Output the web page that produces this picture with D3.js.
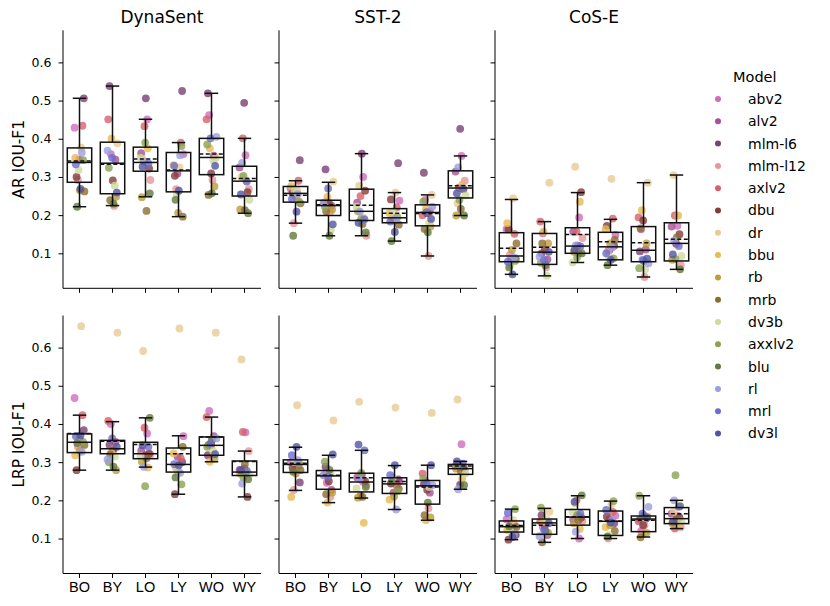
<!DOCTYPE html>
<html>
<head>
<meta charset="utf-8">
<script src="https://cdn.jsdelivr.net/npm/d3@7"></script>
<style>
  body { margin: 0; background: #fff; }
  text { font-family: "DejaVu Sans", sans-serif; fill: #000; }
</style>
</head>
<body>
<script>
// categories / panels
var categories = ["BO", "BY", "LO", "LY", "WO", "WY"];
var datasets = ["DynaSent", "SST-2", "CoS-E"];
var methods = ["AR IOU-F1", "LRP IOU-F1"];
var yTicks = [0.1, 0.2, 0.3, 0.4, 0.5, 0.6];

var models = ["abv2", "alv2", "mlm-l6", "mlm-l12", "axlv2", "dbu", "dr", "bbu",
              "rb", "mrb", "dv3b", "axxlv2", "blu", "rl", "mrl", "dv3l"];
var modelColors = ["#ce6dbd", "#a55194", "#7b4173", "#e7969c", "#d6616b", "#843c39", "#e7cb94", "#e7ba52",
                   "#bd9e39", "#8c6d31", "#cedb9c", "#8ca252", "#637939", "#9c9ede", "#6b6ecf", "#5254a3"];

// one row per category, one value per model (same order as models)
var arDynaSent = [
  [0.429,0.345,0.506,0.292,0.434,0.300,0.377,0.350,0.265,0.262,0.318,0.344,0.222,0.364,0.333,0.269],
  [0.360,0.345,0.538,0.224,0.451,0.291,0.388,0.400,0.248,0.239,0.277,0.324,0.230,0.369,0.350,0.259],
  [0.451,0.362,0.506,0.292,0.433,0.322,0.345,0.375,0.247,0.211,0.350,0.390,0.257,0.340,0.335,0.327],
  [0.360,0.309,0.525,0.268,0.390,0.303,0.325,0.331,0.206,0.196,0.255,0.381,0.240,0.357,0.329,0.264],
  [0.462,0.356,0.519,0.292,0.451,0.309,0.350,0.375,0.275,0.253,0.344,0.385,0.257,0.405,0.401,0.329],
  [0.357,0.325,0.494,0.268,0.401,0.260,0.300,0.290,0.215,0.213,0.240,0.303,0.205,0.337,0.288,0.254]
];
var arSST2 = [
  [0.270,0.260,0.344,0.179,0.290,0.258,0.265,0.276,0.248,0.231,0.263,0.235,0.146,0.255,0.242,0.209],
  [0.235,0.225,0.320,0.208,0.233,0.232,0.288,0.248,0.215,0.210,0.161,0.222,0.146,0.231,0.270,0.176],
  [0.300,0.233,0.361,0.146,0.250,0.264,0.277,0.192,0.210,0.177,0.222,0.190,0.155,0.209,0.189,0.180],
  [0.238,0.192,0.336,0.190,0.220,0.241,0.259,0.205,0.185,0.175,0.209,0.195,0.132,0.190,0.183,0.156],
  [0.240,0.210,0.311,0.093,0.200,0.205,0.253,0.216,0.170,0.164,0.179,0.235,0.155,0.222,0.208,0.190],
  [0.355,0.314,0.426,0.290,0.272,0.268,0.231,0.280,0.199,0.216,0.252,0.240,0.199,0.325,0.270,0.257]
];
var arCoSE = [
  [0.163,0.087,0.085,0.096,0.151,0.163,0.244,0.179,0.109,0.126,0.070,0.080,0.063,0.090,0.078,0.045],
  [0.152,0.084,0.100,0.063,0.183,0.110,0.285,0.157,0.126,0.126,0.041,0.075,0.069,0.091,0.082,0.104],
  [0.194,0.157,0.120,0.140,0.157,0.260,0.327,0.235,0.104,0.100,0.076,0.090,0.100,0.121,0.118,0.109],
  [0.148,0.109,0.120,0.107,0.191,0.172,0.295,0.163,0.126,0.135,0.090,0.087,0.069,0.115,0.100,0.083],
  [0.163,0.110,0.105,0.038,0.194,0.186,0.285,0.213,0.126,0.165,0.058,0.061,0.080,0.074,0.083,0.086],
  [0.172,0.170,0.125,0.069,0.199,0.150,0.305,0.199,0.083,0.142,0.093,0.085,0.058,0.133,0.119,0.097]
];
var lrpDynaSent = [
  [0.468,0.360,0.384,0.340,0.423,0.279,0.656,0.318,0.330,0.345,0.357,0.353,0.350,0.327,0.368,0.370],
  [0.400,0.353,0.345,0.335,0.408,0.330,0.639,0.324,0.279,0.320,0.315,0.300,0.288,0.307,0.362,0.340],
  [0.375,0.330,0.318,0.320,0.390,0.322,0.591,0.286,0.301,0.310,0.315,0.237,0.416,0.288,0.340,0.344],
  [0.368,0.314,0.300,0.285,0.310,0.216,0.650,0.323,0.274,0.340,0.280,0.242,0.260,0.272,0.295,0.292],
  [0.434,0.368,0.318,0.360,0.418,0.345,0.639,0.301,0.310,0.345,0.330,0.340,0.358,0.362,0.349,0.321],
  [0.378,0.280,0.283,0.329,0.379,0.209,0.569,0.275,0.270,0.294,0.268,0.260,0.255,0.244,0.277,0.279]
];
var lrpSST2 = [
  [0.300,0.295,0.247,0.227,0.290,0.285,0.449,0.209,0.270,0.279,0.300,0.297,0.275,0.305,0.318,0.340],
  [0.246,0.227,0.288,0.209,0.265,0.250,0.409,0.194,0.220,0.216,0.270,0.301,0.280,0.266,0.262,0.320],
  [0.248,0.260,0.268,0.240,0.212,0.250,0.458,0.141,0.207,0.209,0.231,0.272,0.235,0.255,0.331,0.346],
  [0.250,0.220,0.255,0.245,0.238,0.244,0.443,0.202,0.210,0.230,0.260,0.224,0.248,0.176,0.266,0.292],
  [0.250,0.220,0.242,0.179,0.270,0.228,0.429,0.148,0.155,0.161,0.235,0.257,0.194,0.240,0.246,0.292],
  [0.347,0.290,0.241,0.280,0.288,0.285,0.464,0.257,0.283,0.276,0.270,0.290,0.240,0.229,0.296,0.302]
];
var lrpCoSE = [
  [0.150,0.140,0.109,0.125,0.135,0.097,0.148,0.122,0.128,0.130,0.118,0.177,0.132,0.112,0.167,0.104],
  [0.130,0.109,0.161,0.140,0.145,0.135,0.170,0.144,0.115,0.090,0.150,0.181,0.120,0.106,0.122,0.140],
  [0.100,0.150,0.160,0.145,0.200,0.155,0.192,0.125,0.140,0.148,0.170,0.162,0.213,0.118,0.165,0.196],
  [0.160,0.150,0.140,0.100,0.170,0.157,0.190,0.130,0.135,0.120,0.109,0.198,0.105,0.148,0.175,0.142],
  [0.120,0.152,0.150,0.135,0.145,0.135,0.158,0.110,0.115,0.103,0.155,0.212,0.160,0.183,0.165,0.155],
  [0.160,0.165,0.148,0.130,0.126,0.155,0.170,0.135,0.140,0.150,0.145,0.266,0.185,0.200,0.183,0.144]
];

// box stats per category: [whisker low, q1, median, mean, q3, whisker high]
var arDynaSentBox = [
  [0.222,0.286,0.338,0.342,0.376,0.506],
  [0.225,0.256,0.336,0.333,0.391,0.538],
  [0.248,0.315,0.338,0.347,0.378,0.451],
  [0.196,0.261,0.316,0.318,0.364,0.390],
  [0.255,0.306,0.351,0.360,0.401,0.519],
  [0.205,0.250,0.289,0.296,0.328,0.401]
];
var arSST2Box = [
  [0.179,0.234,0.257,0.252,0.275,0.290],
  [0.146,0.199,0.225,0.227,0.239,0.286],
  [0.146,0.186,0.210,0.226,0.268,0.361],
  [0.132,0.180,0.193,0.205,0.217,0.259],
  [0.093,0.172,0.207,0.204,0.227,0.253],
  [0.199,0.245,0.271,0.277,0.316,0.355]
];
var arCoSEBox = [
  [0.045,0.078,0.093,0.113,0.154,0.241],
  [0.041,0.071,0.103,0.116,0.152,0.183],
  [0.076,0.100,0.119,0.149,0.167,0.259],
  [0.069,0.083,0.117,0.130,0.155,0.189],
  [0.038,0.078,0.108,0.128,0.170,0.285],
  [0.058,0.080,0.126,0.137,0.180,0.305]
];
var lrpDynaSentBox = [
  [0.279,0.325,0.352,0.375,0.374,0.423],
  [0.279,0.322,0.335,0.355,0.357,0.406],
  [0.287,0.309,0.322,0.346,0.352,0.416],
  [0.216,0.274,0.294,0.322,0.337,0.369],
  [0.301,0.318,0.344,0.366,0.366,0.418],
  [0.209,0.265,0.274,0.302,0.303,0.329]
];
var lrpSST2Box = [
  [0.226,0.273,0.294,0.297,0.306,0.339],
  [0.194,0.229,0.264,0.266,0.278,0.318],
  [0.206,0.222,0.248,0.259,0.271,0.331],
  [0.176,0.218,0.243,0.249,0.259,0.291],
  [0.148,0.190,0.238,0.235,0.252,0.292],
  [0.229,0.268,0.283,0.290,0.294,0.302]
];
var lrpCoSEBox = [
  [0.097,0.117,0.131,0.134,0.146,0.177],
  [0.090,0.111,0.141,0.135,0.151,0.179],
  [0.100,0.135,0.156,0.157,0.176,0.212],
  [0.100,0.108,0.145,0.146,0.172,0.198],
  [0.104,0.118,0.151,0.148,0.159,0.212],
  [0.126,0.139,0.152,0.165,0.181,0.200]
];

var points = [[arDynaSent, arSST2, arCoSE], [lrpDynaSent, lrpSST2, lrpCoSE]];
var boxes = [[arDynaSentBox, arSST2Box, arCoSEBox], [lrpDynaSentBox, lrpSST2Box, lrpCoSEBox]];

// layout
var W = 830, H = 606;
var panelLeft = [63, 279, 495], panelW = 198;
var rowTop = [30.3, 315.5], panelH = 258;

var svg = d3.select("body").append("svg")
  .attr("width", W)
  .attr("height", H);

var x = d3.scaleBand().domain(categories).range([0, panelW]).padding(0);
var boxW = x.bandwidth() * 0.74, capW = boxW * 0.55;

// deterministic spread for the strip points
var jit = function(i, c) { return ((i * 7 + c * 5) % 16) / 15 - 0.5; };

methods.forEach(function(method, r) {
  var y = d3.scaleLinear().domain([0.0084, 0.684]).range([panelH, 0]);

  datasets.forEach(function(ds, c) {
    var g = svg.append("g")
      .attr("transform", "translate(" + panelLeft[c] + "," + rowTop[r] + ")");

    // axes
    var yAxis = d3.axisLeft(y).tickValues(yTicks).tickSize(4.5).tickPadding(7)
      .tickFormat(c === 0 ? d3.format(".1f") : "");
    var ya = g.append("g").call(yAxis);
    ya.select(".domain").attr("d", "M0,0V" + panelH).attr("stroke-width", 1);
    ya.selectAll("text").style("font-size", "12.5px").style("font-family", "DejaVu Sans");

    var xAxis = d3.axisBottom(x).tickSize(4.5).tickPadding(4)
      .tickFormat(r === 1 ? null : "");
    var xa = g.append("g").attr("transform", "translate(0," + panelH + ")").call(xAxis);
    xa.select(".domain").attr("d", "M0,0H" + panelW).attr("stroke-width", 1);
    xa.selectAll("text").style("font-size", "14.5px").style("font-family", "Liberation Sans, Arial, sans-serif");

    // strip points
    var pts = [];
    points[r][c].forEach(function(row, ci) {
      row.forEach(function(v, mi) { pts.push({cat: categories[ci], ci: ci, m: mi, v: v}); });
    });
    g.selectAll("circle.pt")
      .data(pts)
      .enter()
      .append("circle")
        .attr("class", "pt")
        .attr("cx", function(d) { return x(d.cat) + x.bandwidth() / 2 + jit(d.m, d.ci) * x.bandwidth() * 0.3; })
        .attr("cy", function(d) { return y(d.v); })
        .attr("r", 3.9)
        .attr("fill", function(d) { return modelColors[d.m]; })
        .attr("fill-opacity", 0.8);

    // boxes on top
    var bx = g.selectAll("g.box")
      .data(boxes[r][c])
      .enter()
      .append("g")
        .attr("class", "box")
        .attr("transform", function(d, i) { return "translate(" + (x(categories[i]) + x.bandwidth() / 2) + ",0)"; });

    bx.append("line").attr("y1", function(d) { return y(d[0]); }).attr("y2", function(d) { return y(d[1]); })
      .attr("stroke", "#111").attr("stroke-width", 1.5);
    bx.append("line").attr("y1", function(d) { return y(d[4]); }).attr("y2", function(d) { return y(d[5]); })
      .attr("stroke", "#111").attr("stroke-width", 1.5);
    [0, 5].forEach(function(k) {
      bx.append("line")
        .attr("x1", -capW / 2).attr("x2", capW / 2)
        .attr("y1", function(d) { return y(d[k]); }).attr("y2", function(d) { return y(d[k]); })
        .attr("stroke", "#111").attr("stroke-width", 1.5);
    });
    bx.append("rect")
      .attr("x", -boxW / 2)
      .attr("width", boxW)
      .attr("y", function(d) { return y(d[4]); })
      .attr("height", function(d) { return y(d[1]) - y(d[4]); })
      .attr("fill", "none")
      .attr("stroke", "#111")
      .attr("stroke-width", 1.5);
    bx.append("line")
      .attr("x1", -boxW / 2).attr("x2", boxW / 2)
      .attr("y1", function(d) { return y(d[2]); }).attr("y2", function(d) { return y(d[2]); })
      .attr("stroke", "#111").attr("stroke-width", 1.5);
    bx.append("line")
      .attr("x1", -boxW / 2).attr("x2", boxW / 2)
      .attr("y1", function(d) { return y(d[3]); }).attr("y2", function(d) { return y(d[3]); })
      .attr("stroke", "#111").attr("stroke-width", 1.5)
      .attr("stroke-dasharray", "4,2.5");

    // titles
    if (r === 0) {
      g.append("text")
        .attr("x", panelW / 2)
        .attr("y", -7)
        .attr("text-anchor", "middle")
        .style("font-size", "17px")
        .text(ds);
    }
  });

  svg.append("text")
    .attr("transform", "translate(24," + (rowTop[r] + panelH / 2) + ") rotate(-90)")
    .attr("text-anchor", "middle")
    .style("font-size", "15.5px")
    .text(method);
});

// legend
var legend = svg.append("g").attr("transform", "translate(718,0)");
legend.append("text")
  .attr("x", 15)
  .attr("y", 82)
  .style("font-size", "14.5px")
  .text("Model");
var items = legend.selectAll("g.item")
  .data(models)
  .enter()
  .append("g")
    .attr("class", "item")
    .attr("transform", function(d, i) { return "translate(0," + (99 + i * 22.3) + ")"; });
items.append("circle")
  .attr("r", 3)
  .attr("fill", function(d, i) { return modelColors[i]; });
items.append("text")
  .attr("x", 30)
  .attr("dy", "0.35em")
  .style("font-size", "14px")
  .text(function(d) { return d; });
</script>
</body>
</html>
